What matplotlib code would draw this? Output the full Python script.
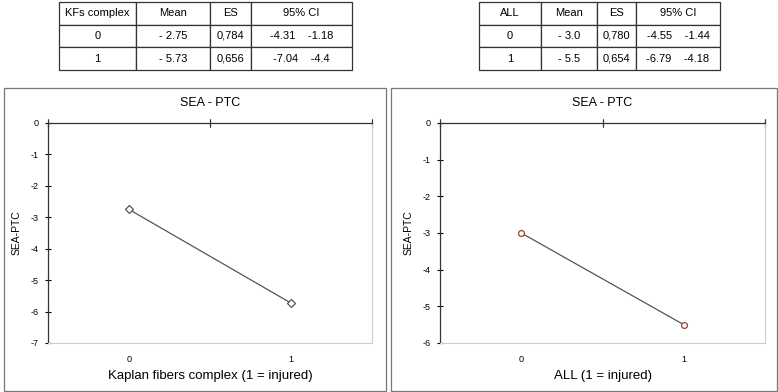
import matplotlib
matplotlib.use("Agg")
import matplotlib.pyplot as plt
from matplotlib.patches import Rectangle

plt.rcParams['font.family'] = ['Liberation Sans', 'DejaVu Sans']
plt.rcParams['axes.unicode_minus'] = False

# table data
kf_header = ['KFs complex', 'Mean', 'ES', '95% CI']
kf_rows = [['0', '- 2.75', '0,784', '-4.31    -1.18'],
           ['1', '- 5.73', '0,656', '-7.04    -4.4']]
all_header = ['ALL', 'Mean', 'ES', '95% CI']
all_rows = [['0', '- 3.0', '0,780', '-4.55    -1.44'],
            ['1', '- 5.5', '0,654', '-6.79    -4.18']]

# line data
groups = [0, 1]
kf_means = [-2.75, -5.73]
all_means = [-3.0, -5.5]

W, H = 778, 392
fig = plt.figure(figsize=(W / 100, H / 100), dpi=100)


def px_axes(x0, y0, x1, y1):
    # pixel box (top-left origin) -> figure axes
    return fig.add_axes([x0 / W, 1 - y1 / H, (x1 - x0) / W, (y1 - y0) / H])


def draw_table(box, header, rows, widths):
    ax = px_axes(*box)
    ax.axis('off')
    tot = sum(widths)
    tb = ax.table(cellText=rows, colLabels=header, cellLoc='center',
                  colWidths=[w / tot for w in widths], bbox=[0, 0, 1, 1])
    tb.auto_set_font_size(False)
    for cell in tb.get_celld().values():
        cell.set_fontsize(8)
        cell.set_linewidth(0.9)
        cell.set_edgecolor('#333333')


draw_table((59, 2, 352, 70), kf_header, kf_rows, [77, 74, 41, 101])
draw_table((479, 2, 720, 70), all_header, all_rows, [62, 56, 39, 84])

# panel frames
for x0, x1 in [(4, 386), (391, 777)]:
    fig.patches.append(Rectangle((x0 / W, 1 / H), (x1 - x0) / W, (391 - 87) / H - 1 / H,
                                 transform=fig.transFigure, fill=False,
                                 edgecolor='#777777', linewidth=0.9))


def draw_panel(box, means, ymin, marker, mec, xlabel):
    ax = px_axes(*box)
    ax.plot(groups, means, color='#555555', linewidth=0.9, marker=marker,
            markersize=4.2, markerfacecolor='white', markeredgecolor=mec,
            markeredgewidth=0.9)
    ax.set_xlim(-0.5, 1.5)
    ax.set_ylim(ymin, 0)
    ax.set_yticks(range(ymin, 1))
    ax.set_xticks(groups)
    ax.tick_params(axis='y', direction='inout', length=5, width=0.8,
                   labelsize=6.5, pad=4)
    ax.tick_params(axis='x', length=0, labelsize=6.5, pad=9)
    # category boundary ticks on the zero line
    for xb in [-0.5, 0.5, 1.5]:
        ax.plot([xb, xb], [0, 0], marker='|', markersize=6, color='#333333',
                clip_on=False, markeredgewidth=0.8)
    ax.spines['left'].set_color('#333333')
    ax.spines['top'].set_color('#333333')
    ax.spines['left'].set_linewidth(0.9)
    ax.spines['top'].set_linewidth(0.9)
    ax.spines['right'].set_color('#cccccc')
    ax.spines['bottom'].set_color('#cccccc')
    ax.set_title('SEA - PTC', fontsize=9, pad=12)
    ax.set_ylabel('SEA-PTC', fontsize=7.5, labelpad=7)
    ax.set_xlabel(xlabel, fontsize=9.5, labelpad=4)


draw_panel((48, 123, 372, 343), kf_means, -7, 'D', '#555555',
           'Kaplan fibers complex (1 = injured)')
draw_panel((440, 123, 765, 343), all_means, -6, 'o', '#8b4a2b',
           'ALL (1 = injured)')

fig.savefig('out.png', dpi=100)
